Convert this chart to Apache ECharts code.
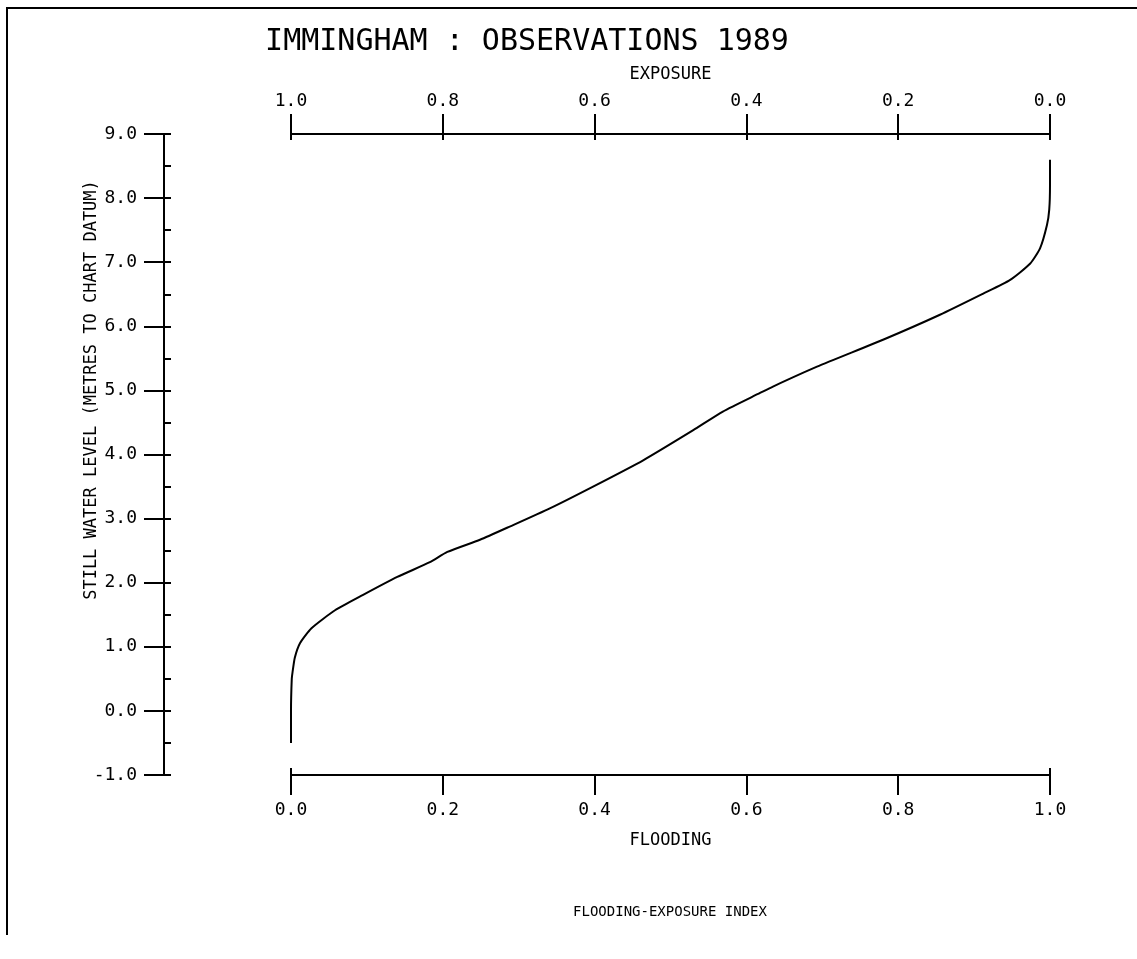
<!DOCTYPE html>
<html>
<head>
<meta charset="utf-8">
<script src="https://cdn.jsdelivr.net/npm/echarts@6/dist/echarts.min.js"></script>
<style>html,body{margin:0;padding:0;background:#fff}#c{width:1137px;height:959px}</style>
</head>
<body>
<div id="c"></div>
<script>
// Data (flooding index, still water level in m to chart datum)
const flooding = [0.000, 0.000, 0.001, 0.002, 0.005, 0.012, 0.027, 0.058, 0.095, 0.140, 0.183, 0.206, 0.249, 0.289, 0.341, 0.398, 0.464, 0.530, 0.569, 0.618, 0.635, 0.693, 0.780, 0.855, 0.912, 0.947, 0.974, 0.987, 0.996, 0.999, 1.000, 1.000];
const level    = [-0.50, 0.00, 0.50, 0.60, 0.83, 1.06, 1.29, 1.57, 1.81, 2.09, 2.32, 2.48, 2.67, 2.88, 3.16, 3.50, 3.91, 4.38, 4.67, 4.96, 5.06, 5.37, 5.79, 6.18, 6.51, 6.72, 6.98, 7.22, 7.58, 7.82, 8.20, 8.60];
const titleText = 'IMMINGHAM : OBSERVATIONS 1989';
const yName = 'STILL WATER LEVEL (METRES TO CHART DATUM)';
const bottomName = 'FLOODING';
const topName = 'EXPOSURE';
const footer = 'FLOODING-EXPOSURE INDEX';

const MONO = '"DejaVu Sans Mono", "Liberation Mono", monospace';
const BLACK = '#000';
const pts = flooding.map((f, i) => [f, level[i]]);
const fmt1 = v => Number(v).toFixed(1);

const chart = echarts.init(document.getElementById('c'), null, {renderer: 'canvas'});
chart.setOption({
  backgroundColor: '#fff',
  animation: false,
  grid: {left: 291, right: 87, top: 134, bottom: 184, containLabel: false, outerBoundsMode: 'none'},
  xAxis: [
    {
      type: 'value', position: 'bottom', min: 0, max: 1, interval: 0.2,
      axisLine: {show: true, onZero: false, lineStyle: {color: BLACK, width: 2}},
      axisTick: {show: true, inside: false, length: 20, lineStyle: {color: BLACK, width: 2}},
      axisLabel: {show: true, margin: 26, formatter: fmt1, color: BLACK, fontFamily: MONO, fontSize: 18},
      splitLine: {show: false},
      name: bottomName, nameLocation: 'middle', nameGap: 57,
      nameTextStyle: {color: BLACK, fontFamily: MONO, fontSize: 17}
    },
    {
      type: 'value', position: 'bottom', min: 0, max: 1, interval: 1,
      axisLine: {show: false, onZero: false},
      axisTick: {show: true, inside: true, length: 7, lineStyle: {color: BLACK, width: 2}},
      axisLabel: {show: false}, splitLine: {show: false}
    },
    {
      type: 'value', position: 'top', inverse: true, min: 0, max: 1, interval: 0.2,
      axisLine: {show: true, onZero: false, lineStyle: {color: BLACK, width: 2}},
      axisTick: {show: true, inside: false, length: 20, lineStyle: {color: BLACK, width: 2}},
      axisLabel: {show: true, margin: 24, formatter: fmt1, color: BLACK, fontFamily: MONO, fontSize: 18},
      splitLine: {show: false},
      name: topName, nameLocation: 'middle', nameGap: 51,
      nameTextStyle: {color: BLACK, fontFamily: MONO, fontSize: 17}
    },
    {
      type: 'value', position: 'top', inverse: true, min: 0, max: 1, interval: 0.2,
      axisLine: {show: false, onZero: false},
      axisTick: {show: true, inside: true, length: 6, lineStyle: {color: BLACK, width: 2}},
      axisLabel: {show: false}, splitLine: {show: false}
    }
  ],
  yAxis: [
    {
      type: 'value', position: 'left', offset: 127, min: -1, max: 9, interval: 1,
      axisLine: {show: true, onZero: false, lineStyle: {color: BLACK, width: 2}},
      axisTick: {show: true, inside: false, length: 20, lineStyle: {color: BLACK, width: 2}},
      axisLabel: {show: true, margin: 27, formatter: fmt1, color: BLACK, fontFamily: MONO, fontSize: 18},
      splitLine: {show: false}
    },
    {
      type: 'value', position: 'left', offset: 127, min: -1, max: 9, interval: 0.5,
      axisLine: {show: false, onZero: false},
      axisTick: {show: true, inside: true, length: 7, lineStyle: {color: BLACK, width: 2}},
      axisLabel: {show: false}, splitLine: {show: false}
    }
  ],
  series: [{
    type: 'line', xAxisIndex: 0, yAxisIndex: 0, data: pts,
    showSymbol: false, smooth: 0.2,
    lineStyle: {color: BLACK, width: 2}
  }],
  graphic: [
    {type: 'polyline', shape: {points: [[7, 935], [7, 8], [1137, 8]]}, style: {stroke: BLACK, lineWidth: 2, fill: null}},
    {type: 'text', x: 527, y: 42, style: {text: titleText, font: '30px ' + MONO, fill: BLACK, textAlign: 'center', textVerticalAlign: 'middle'}},
    {type: 'text', x: 92, y: 390, rotation: Math.PI / 2, style: {text: yName, font: '17px ' + MONO, fill: BLACK, textAlign: 'center', textVerticalAlign: 'middle'}},
    {type: 'text', x: 670, y: 912, style: {text: footer, font: '14px ' + MONO, fill: BLACK, textAlign: 'center', textVerticalAlign: 'middle'}}
  ]
});
</script>
</body>
</html>
